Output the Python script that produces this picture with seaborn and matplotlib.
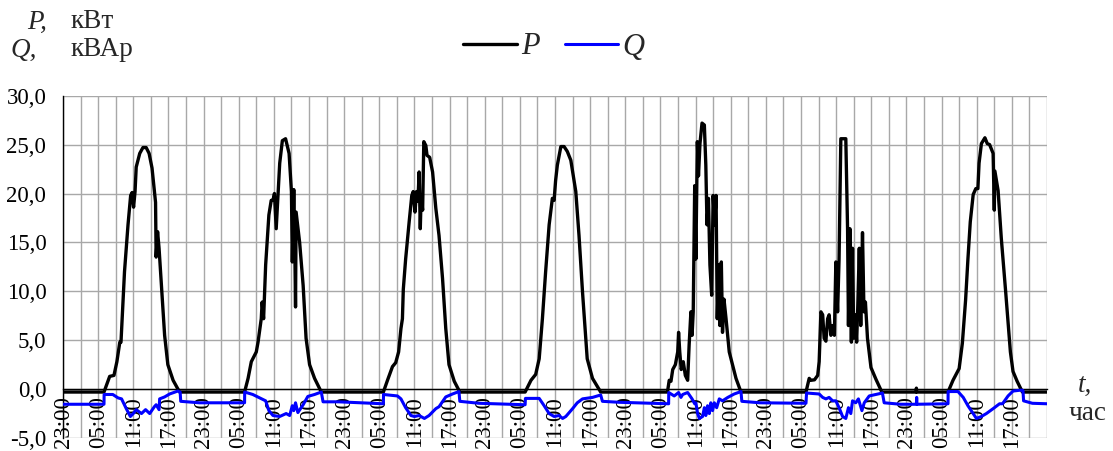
import matplotlib
matplotlib.use("Agg")
import matplotlib.pyplot as plt
import seaborn as sns
import pandas as pd

# ---------------- data (local hours from 23:00 of the previous day) ----------------
TICK_LABELS = ["23:00", "05:00", "11:00", "17:00"]
Y_TICKS = [-5, 0, 5, 10, 15, 20, 25, 30]

p_day0_t = [0, 7.0, 7.97, 8.7, 9.2, 9.7, 9.9, 10.1, 10.5, 11.1, 11.55, 11.8, 12.05, 12.3, 12.5,
            13.1, 13.65, 14.2, 14.7, 15.2, 15.8, 15.9, 16.15, 16.4, 16.8, 17.35, 17.9, 18.8, 19.9]
p_day0 = [-0.3, -0.3, 1.3, 1.4, 2.8, 4.8, 4.8, 7.2, 12.0, 16.8, 19.8, 20.1, 18.6, 20.2, 22.7,
          24.1, 24.7, 24.7, 24.1, 22.6, 19.1, 13.5, 16.1, 14.4, 10.6, 5.5, 2.5, 0.9, -0.3]
q_day0_t = [0, 7.0, 7.02, 8.5, 9.4, 10.0, 10.8, 11.5, 12.0, 12.5, 13.4, 14.1, 14.8, 15.6, 15.9,
            16.4, 16.5, 17.35, 18.2, 19.6, 20.0, 20.1, 23.3]
q_day0 = [-1.55, -1.55, -0.55, -0.55, -0.9, -1.0, -2.0, -2.8, -2.5, -2.1, -2.5, -2.1, -2.5, -1.8, -1.6,
          -2.1, -1.0, -0.8, -0.5, -0.2, -0.3, -1.25, -1.4]

p_day1_t = [7.0, 7.6, 8.15, 9.0, 9.3, 9.85, 10.0, 10.25, 10.6, 11.15, 11.55, 11.85, 12.1, 12.4, 12.7,
            13.0, 13.45, 14.0, 14.6, 15.0, 15.15, 15.4, 15.55, 15.7, 15.8, 16.4, 17.0, 17.5, 18.1,
            18.95, 20.1]
p_day1 = [-0.3, 1.1, 2.8, 3.8, 4.8, 7.2, 8.9, 7.2, 12.7, 17.8, 19.3, 19.3, 20.0, 16.4, 19.8,
          23.1, 25.4, 25.6, 24.1, 20.2, 13.0, 20.4, 15.7, 8.4, 18.1, 15.0, 10.6, 5.2, 2.5,
          1.1, -0.3]
q_day1_t = [7.0, 7.02, 8.4, 9.6, 10.6, 11.15, 11.85, 13.0, 14.1, 14.7, 15.15, 15.4, 15.7, 16.1,
            17.0, 17.8, 18.95, 20.1, 20.4, 23.0]
q_day1 = [-1.4, -0.3, -0.55, -0.9, -1.2, -2.2, -2.7, -2.8, -2.5, -2.7, -1.7, -2.2, -1.4, -2.4,
          -1.6, -0.75, -0.55, -0.3, -1.3, -1.3]

p_day2_t = [6.7, 7.4, 8.25, 8.8, 9.3, 9.7, 9.95, 10.1, 10.5, 11.1, 11.55, 11.8, 12.1, 12.35, 12.6,
            12.8, 13.0, 13.15, 13.4, 13.6, 13.95, 14.15, 14.6, 15.1, 15.5, 15.65, 16.2, 16.8, 17.35,
            17.9, 18.8, 19.75]
p_day2 = [-0.3, 0.9, 2.3, 2.7, 3.8, 6.2, 7.2, 10.2, 13.3, 17.1, 19.8, 20.2, 18.1, 20.2, 19.2,
          22.2, 16.4, 19.8, 18.3, 25.3, 24.9, 23.9, 23.7, 22.2, 19.5, 18.5, 15.7, 11.3, 6.2,
          2.5, 0.8, -0.3]
q_day2_t = [6.7, 6.72, 9.1, 9.7, 10.5, 11.4, 12.0, 12.8, 13.7, 14.5, 15.65, 16.2, 17.35, 18.5,
            19.6, 19.75, 23.0]
q_day2 = [-1.5, -0.55, -0.7, -1.0, -1.9, -2.7, -2.8, -2.7, -3.0, -2.7, -2.0, -1.8, -0.8, -0.5,
          -0.25, -1.25, -1.45]

p_day3_t = [6.9, 7.9, 8.7, 9.3, 9.85, 10.4, 11.0, 11.55, 11.85, 12.1, 12.4, 13.0, 13.55, 14.1,
            14.7, 15.55, 16.1, 16.7, 17.5, 18.4, 19.8]
p_day3 = [-0.3, 0.9, 1.5, 3.1, 7.2, 12.0, 16.8, 19.5, 19.3, 21.3, 22.9, 24.8, 24.8, 24.3,
          23.4, 20.2, 15.7, 9.9, 3.1, 1.1, -0.3]
q_day3_t = [6.9, 6.95, 9.3, 10.15, 11.0, 11.85, 12.7, 13.3, 13.85, 15.0, 15.8, 16.7, 18.4, 19.8,
            20.1, 23.0]
q_day3 = [-1.6, -0.95, -0.95, -1.7, -2.5, -2.8, -2.7, -3.0, -2.8, -2.0, -1.4, -1.0, -0.85, -0.6,
          -1.25, -1.35]

p_day4_t = [7.2, 7.5, 7.8, 8.1, 8.55, 8.95, 9.1, 9.3, 9.55, 9.9, 10.25, 10.65, 10.9, 11.2, 11.4,
            11.6, 11.85, 12.05, 12.3, 12.5, 12.75, 13.1, 13.5, 13.75, 13.95, 14.2, 14.45, 14.75,
            15.0, 15.25, 15.5, 15.7, 15.95, 16.15, 16.4, 16.6, 16.85, 17.2, 17.75, 18.3, 18.9, 19.75]
p_day4 = [-0.3, 0.9, 0.8, 2.0, 2.5, 3.8, 5.8, 3.8, 2.0, 2.8, 1.4, 0.9, 4.5, 7.9, 5.5,
          7.9, 20.8, 13.3, 25.3, 21.8, 25.1, 27.2, 27.0, 22.9, 16.8, 19.5, 12.7, 9.6,
          19.8, 16.8, 19.8, 7.2, 12.7, 6.5, 13.0, 5.8, 9.2, 7.2, 3.8, 2.5, 1.1, -0.3]
q_day4_t = [7.4, 7.42, 8.35, 9.1, 9.5, 9.8, 10.65, 11.4, 11.85, 12.05, 12.35, 12.65, 13.2, 13.5,
            13.75, 14.05, 14.35, 14.6, 14.9, 15.2, 15.6, 16.05, 16.6, 17.5, 18.6, 19.75, 19.9, 23.0]
q_day4 = [-1.5, -0.35, -0.7, -0.35, -0.85, -0.55, -0.35, -1.0, -1.5, -1.4, -2.5, -3.0, -2.8, -1.9,
          -2.7, -1.7, -2.5, -1.4, -2.2, -1.4, -1.9, -1.0, -1.2, -0.85, -0.5, -0.25, -1.25, -1.4]

p_day5_t = [6.85, 7.4, 7.7, 8.3, 8.85, 9.1, 9.4, 9.7, 9.95, 10.25, 10.55, 10.8, 11.1, 11.4, 11.7,
            11.95, 12.25, 12.5, 12.8, 13.1, 13.65, 13.95, 14.1, 14.35, 14.6, 14.8, 15.0, 15.25,
            15.5, 15.7, 15.95, 16.2, 16.5, 16.75, 17.0, 17.35, 17.95, 18.8, 19.8]
p_day5 = [-0.3, 1.1, 0.9, 0.95, 1.4, 2.8, 7.9, 7.6, 5.2, 4.9, 7.2, 7.6, 5.5, 6.5, 5.5,
          13.0, 7.9, 13.3, 25.6, 25.6, 25.6, 16.4, 6.5, 16.4, 4.8, 14.4, 5.2, 7.6,
          4.8, 8.6, 14.4, 6.5, 16.0, 7.9, 8.9, 5.2, 2.2, 1.0, -0.3]
q_day5_t = [6.85, 6.95, 9.1, 9.7, 10.25, 10.8, 11.4, 11.95, 12.5, 13.1, 13.65, 14.1, 14.5, 14.8,
            15.35, 15.8, 16.4, 16.8, 17.65, 18.8, 19.9, 20.2, 23.0]
q_day5 = [-1.45, -0.4, -0.5, -0.85, -1.0, -0.85, -1.2, -1.2, -1.9, -2.8, -3.0, -1.9, -2.5, -1.2,
          -1.4, -1.0, -2.2, -1.4, -0.7, -0.55, -0.4, -1.4, -1.55]

p_day6_t = [1.65, 1.7, 1.75, 7.1, 7.95, 9.0, 9.55, 10.1, 10.5, 10.9, 11.4, 11.85, 12.2, 12.4, 12.8,
            13.4, 13.8, 14.2, 14.8, 15.0, 15.1, 15.65, 16.2, 16.95, 17.75, 18.2, 18.9, 19.8, 24.0]
p_day6 = [-0.3, 0.1, -0.3, -0.3, 0.9, 2.1, 4.7, 9.1, 13.3, 17.1, 19.9, 20.5, 20.5, 23.1, 25.1,
          25.7, 25.1, 25.0, 24.1, 18.3, 22.3, 20.3, 15.4, 9.9, 3.8, 1.8, 0.8, -0.3, -0.3]
q_day6_t = [1.4, 1.7, 1.75, 1.8, 6.8, 7.1, 7.12, 8.8, 9.7, 10.5, 11.4, 11.95, 12.8, 13.65, 14.8,
            15.9, 16.4, 17.35, 18.2, 19.6, 19.9, 20.0, 21.5, 24.0]
q_day6 = [-1.55, -1.55, -0.85, -1.55, -1.5, -1.5, -0.25, -0.25, -0.85, -1.7, -2.5, -3.0, -2.8, -2.5,
          -2.0, -1.5, -1.5, -0.7, -0.2, -0.1, -0.15, -1.2, -1.45, -1.5]

P_DAYS = [(p_day0_t, p_day0), (p_day1_t, p_day1), (p_day2_t, p_day2), (p_day3_t, p_day3),
          (p_day4_t, p_day4), (p_day5_t, p_day5), (p_day6_t, p_day6)]
Q_DAYS = [(q_day0_t, q_day0), (q_day1_t, q_day1), (q_day2_t, q_day2), (q_day3_t, q_day3),
          (q_day4_t, q_day4), (q_day5_t, q_day5), (q_day6_t, q_day6)]


def build(days, name):
    rows = []
    for k, (ts, vs) in enumerate(days):
        for t, v in zip(ts, vs):
            rows.append({"t": 24 * k + t, name: v})
    return pd.DataFrame(rows)


dfP = build(P_DAYS, "P")
dfQ = build(Q_DAYS, "Q")

# ---------------- styling ----------------
sns.set_style("white")
plt.rcParams["font.family"] = ["Liberation Serif", "DejaVu Serif"]
FS = 16.5     # tick labels
FS_T = 19.5   # unit / axis captions
FS_L = 22     # legend

fig = plt.figure(figsize=(11.13, 4.51), dpi=100)
ax = fig.add_axes([63 / 1113, 1 - 438 / 451, (1047 - 63) / 1113, (438 - 95.7) / 451])

sns.lineplot(data=dfP, x="t", y="P", color="black", lw=2.4, estimator=None, sort=False,
             ax=ax, label="P", zorder=3)
sns.lineplot(data=dfQ, x="t", y="Q", color="#0000ff", lw=2.2, estimator=None, sort=False,
             ax=ax, label="Q", zorder=4)

# spine placement first (it resets tick properties)
for s in ["top", "right"]:
    ax.spines[s].set_visible(False)
ax.spines["bottom"].set_position(("data", 0))
ax.spines["bottom"].set_color("black")
ax.spines["bottom"].set_linewidth(1.0)
ax.spines["left"].set_color("black")
ax.spines["left"].set_linewidth(1.0)

ax.set_xlim(0, 168)
ax.set_ylim(-5, 30)

xt = list(range(0, 169, 3))
xl = [TICK_LABELS[(h // 6) % 4] if (h % 6 == 0 and h < 168) else "" for h in xt]
ax.set_xticks(xt)
ax.set_xticklabels(xl)
ax.set_yticks(Y_TICKS)
ax.set_yticklabels([f"{v:.1f}".replace(".", ",") for v in Y_TICKS])

ax.grid(True, color="#a8a8a8", lw=1.0, zorder=0)
ax.set_axisbelow(True)
ax.tick_params(axis="x", direction="out", length=3, width=1, pad=2, colors="black",
               labelsize=FS, labelrotation=90)
ax.tick_params(axis="y", direction="out", length=4, width=1, pad=8, colors="black",
               labelsize=FS)
ax.set_xlabel("")
ax.set_ylabel("")

leg = ax.legend(loc="center", bbox_to_anchor=(554 / 1113, 1 - 47 / 451),
                bbox_transform=fig.transFigure, ncol=2, frameon=False,
                prop={"family": "Liberation Serif", "style": "italic", "size": FS_L},
                handlelength=1.75, handletextpad=0.15, columnspacing=0.8)

fig.text(27 / 1113, 1 - 22 / 451, "P,", fontsize=FS_T, style="italic", va="center", ha="left")
fig.text(71 / 1113, 1 - 22 / 451, "кВт", fontsize=FS_T, va="center", ha="left")
fig.text(10 / 1113, 1 - 50 / 451, "Q,", fontsize=FS_T, style="italic", va="center", ha="left")
fig.text(71 / 1113, 1 - 50 / 451, "кВАр", fontsize=FS_T, va="center", ha="left")
fig.text(1078 / 1113, 1 - 385 / 451, "t,", fontsize=FS_T, style="italic", va="center", ha="left")
fig.text(1087 / 1113, 1 - 414 / 451, "час", fontsize=FS_T, va="center", ha="center")

fig.savefig("out.png", dpi=100)
